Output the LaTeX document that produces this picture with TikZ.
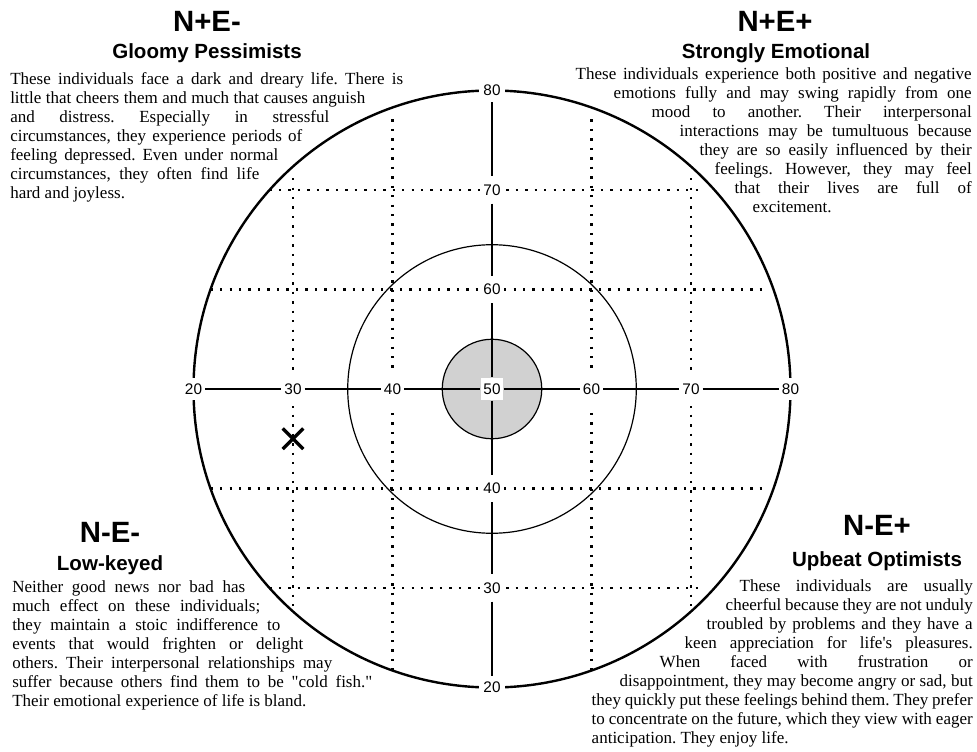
\documentclass[tikz,border=0pt]{standalone}
\usepackage{fontspec}
\setmainfont{Liberation Serif}
\newfontfamily\arialfont{Liberation Sans}
\usetikzlibrary{shapes.misc}
\newlength\pxu
\setlength\pxu{0.75pt}
\newcommand\jl[2]{\makebox[#1\pxu][s]{#2}}
\newcommand\bodyfont{\fontsize{12.75pt}{14.25pt}\selectfont\frenchspacing}
\begin{document}
\begin{tikzpicture}[
x=0.75pt, y=-0.75pt,
body/.style={inner sep=0pt, font=\bodyfont},
title/.style={anchor=base, inner sep=0pt, font=\arialfont\bfseries\fontsize{22pt}{24pt}\selectfont},
subtitle/.style={anchor=base, inner sep=0pt, font=\arialfont\bfseries\fontsize{15.4pt}{17pt}\selectfont},
axlab/.style={fill=white, inner xsep=2.2pt, inner ysep=4.5pt, font=\arialfont\fontsize{11.5pt}{12pt}\selectfont},
gridh/.style={axlab, inner ysep=9pt},
gridv/.style={axlab, inner xsep=1pt, inner ysep=6pt},
axis/.style={line width=1.5pt},
griddot/.style={line width=1.8pt, dash pattern=on 1.8pt off 5.3pt}
]
\useasboundingbox (0,0) rectangle (977,752);

\node[title] (gloomyT) at (207,32) {N+E-};
\node[subtitle] (gloomyS) at (207,59) {Gloomy Pessimists};
\node[body, anchor=north west, align=left] (gloomy) at (10,72) {%
\jl{393}{These individuals face a dark and dreary life. There is}\\
\jl{355}{little that cheers them and much that causes anguish}\\
\jl{319}{and distress. Especially in stressful}\\
\jl{292}{circumstances, they experience periods of}\\
\jl{268}{feeling depressed. Even under normal}\\
\jl{249}{circumstances, they often find life}\\
hard and joyless.};

\node[title] (strongT) at (775,32) {N+E+};
\node[subtitle] (strongS) at (776,59) {Strongly Emotional};
\node[body, anchor=north east, align=right] (strong) at (972,67) {%
\jl{396}{These individuals experience both positive and negative}\\
\jl{358}{emotions fully and may swing rapidly from one}\\
\jl{320}{mood to another. Their interpersonal}\\
\jl{292}{interactions may be tumultuous because}\\
\jl{272}{they are so easily influenced by their}\\
\jl{257}{feelings. However, they may feel}\\
\jl{237}{that their lives are full of}\\
\makebox[219\pxu][l]{excitement.}};

\node[title] (lowT) at (110,542) {N-E-};
\node[subtitle] (lowS) at (110,570) {Low-keyed};
\node[body, anchor=north west, align=left] (low) at (12,580) {%
\jl{233}{Neither good news nor bad has}\\
\jl{248}{much effect on these individuals;}\\
\jl{268}{they maintain a stoic indifference to}\\
\jl{291}{events that would frighten or delight}\\
\jl{320}{others. Their interpersonal relationships may}\\
\jl{360}{suffer because others find them to be \textquotedbl cold fish.\textquotedbl}\\
Their emotional experience of life is bland.};

\node[title] (upT) at (877,535) {N-E+};
\node[subtitle] (upS) at (877,566) {Upbeat Optimists};
\node[body, anchor=north east, align=right] (up) at (973,579) {%
\jl{233}{These individuals are usually}\\
\jl{247}{cheerful because they are not unduly}\\
\jl{266}{troubled by problems and they have a}\\
\jl{288}{keen appreciation for life\textquotesingle s pleasures.}\\
\jl{313}{When faced with frustration or}\\
\jl{353}{disappointment, they may become angry or sad, but}\\
\jl{381}{they quickly put these feelings behind them. They prefer}\\
\jl{381}{to concentrate on the future, which they view with eager}\\
\makebox[381\pxu][l]{anticipation. They enjoy life.}};

\begin{scope}[shift={(492,389)}, x=7.4625pt, y=7.4625pt, shift={(-50,-50)}]
\draw[line width=0.9pt, fill=black!18] (50,50) circle[radius=5];
\draw[line width=0.9pt] (50,50) circle[radius=14.5];
\draw[line width=1.8pt] (50,50) circle[radius=30];
\foreach \u/\top/\bot in {30/71.2/27.64, 40/77.1/21.72, 60/77.1/21.72, 70/71.2/27.64}
  \draw[griddot] (\u,\top) -- (\u,\bot);
\foreach \v/\lft/\rgt in {70/27.64/71.2, 60/21.72/77.1, 40/21.72/77.1, 30/27.64/71.2}
  \draw[griddot] (\lft,\v) -- (\rgt,\v);
\node[axlab] (h20) at (20,50) {20};
\foreach \u in {30,40,60,70}
  \node[gridh] (h\u) at (\u,50) {\u};
\node[axlab] (h80) at (80,50) {80};
\node[axlab] (c50) at (50,50) {50};
\node[axlab, inner xsep=3.7pt] (v80) at (50,80) {80};
\foreach \v in {70,60,40,30}
  \node[gridv] (v\v) at (50,\v) {\v};
\node[axlab, inner xsep=3.7pt] (v20) at (50,20) {20};
\draw[axis] (h20) -- (h30) -- (h40) -- (c50) -- (h60) -- (h70) -- (h80);
\draw[axis] (v80) -- (v70) -- (v60) -- (c50) -- (v40) -- (v30) -- (v20);
\node[cross out, draw, line width=2.4pt, minimum size=13pt, inner sep=0pt] (mark) at (30,45) {};
\end{scope}

\end{tikzpicture}
\end{document}
